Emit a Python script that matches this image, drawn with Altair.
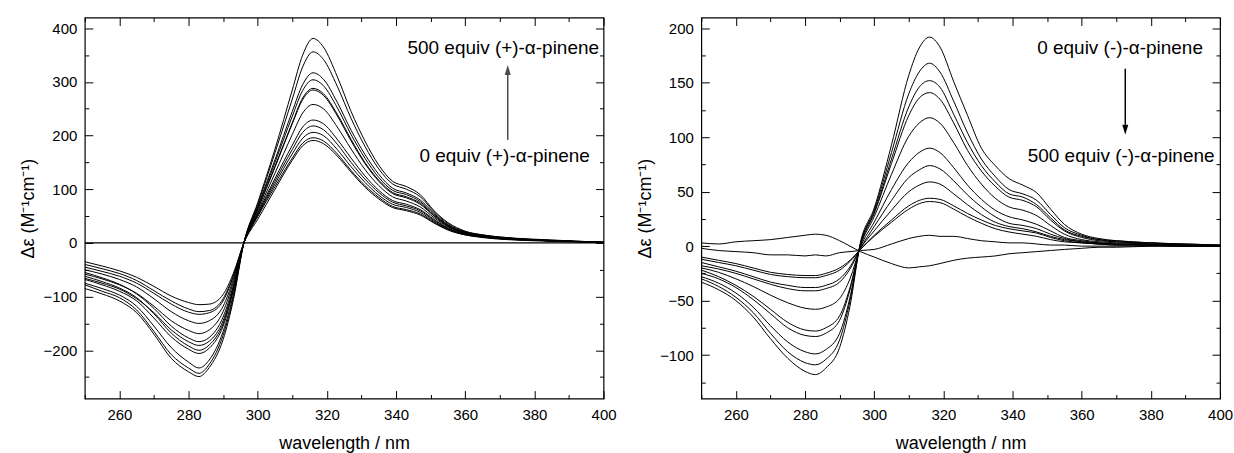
import altair as alt
import pandas as pd

FONT = "Liberation Sans"
PW, PH = 520, 382

# ---------------- data ----------------
wavelength = [250, 255, 260, 265, 270, 275, 280, 283, 286, 290, 293, 296, 300, 305, 310, 313,
              316, 319, 323, 327, 331, 335, 339, 343, 347, 351, 355, 360, 365, 370, 380, 390, 400]

# left panel: titration with (+)-alpha-pinene (0 ... 500 equiv)
plus_1 = [-85, -95, -108, -130, -170, -215, -240, -249, -232, -180, -105, 0, 75, 175, 285, 350, 381, 365, 310, 245, 190, 145, 115, 105, 90, 60, 38, 22, 15, 11, 7, 4, 1]
plus_2 = [-78, -90, -102, -125, -165, -208, -233, -243, -226, -172, -100, 0, 72, 168, 268, 328, 356, 342, 292, 232, 180, 138, 110, 100, 86, 58, 36, 21, 15, 11, 6, 4, 1]
plus_3 = [-75, -85, -97, -118, -155, -195, -222, -233, -218, -165, -95, 0, 68, 155, 245, 295, 317, 305, 262, 210, 165, 128, 102, 93, 80, 55, 34, 20, 14, 10, 6, 3, 1]
plus_4 = [-68, -78, -90, -108, -140, -175, -198, -206, -196, -155, -88, 0, 66, 150, 236, 284, 304, 293, 252, 202, 158, 122, 98, 90, 77, 53, 33, 19, 14, 10, 6, 3, 1]
plus_5 = [-62, -72, -84, -102, -132, -168, -192, -200, -190, -150, -85, 0, 63, 143, 224, 270, 288, 278, 240, 193, 150, 117, 94, 86, 74, 51, 32, 19, 13, 9, 5, 3, 1]
plus_6 = [-66, -75, -86, -104, -130, -162, -184, -191, -183, -145, -82, 0, 62, 141, 222, 267, 285, 275, 237, 190, 148, 115, 92, 84, 72, 50, 31, 18, 13, 9, 5, 3, 1]
plus_7 = [-55, -65, -77, -95, -122, -155, -177, -184, -176, -138, -78, 0, 58, 130, 202, 242, 258, 250, 216, 175, 137, 107, 86, 78, 67, 47, 30, 18, 12, 9, 5, 3, 1]
plus_8 = [-58, -67, -78, -94, -118, -145, -163, -169, -162, -128, -72, 0, 55, 120, 182, 216, 229, 222, 193, 158, 125, 98, 79, 72, 62, 44, 28, 17, 12, 8, 5, 3, 1]
plus_9 = [-50, -58, -68, -82, -104, -128, -145, -150, -145, -118, -67, 0, 53, 115, 174, 206, 218, 211, 184, 150, 119, 94, 76, 69, 60, 42, 27, 16, 11, 8, 5, 3, 1]
plus_10 = [-45, -53, -62, -75, -94, -114, -129, -133, -130, -108, -62, 0, 51, 110, 166, 195, 206, 200, 174, 142, 113, 89, 72, 66, 57, 40, 26, 16, 11, 8, 5, 3, 1]
plus_11 = [-40, -48, -57, -70, -89, -108, -123, -128, -126, -104, -60, 0, 49, 105, 158, 186, 196, 190, 166, 135, 107, 85, 68, 62, 54, 38, 25, 15, 11, 8, 5, 3, 1]
plus_12 = [-35, -43, -52, -64, -81, -99, -111, -115, -114, -96, -56, 0, 44, 100, 154, 181, 191, 185, 162, 132, 104, 82, 66, 60, 52, 37, 24, 15, 10, 7, 4, 2, 1]

# right panel: titration with (-)-alpha-pinene (0 ... 500 equiv)
minus_1 = [-33, -40, -50, -65, -85, -103, -115, -118, -112, -93, -55, 3, 35, 93, 157, 182, 192, 183, 151, 120, 90, 74, 62, 56, 49, 34, 20, 11, 7, 5, 3, 2, 1]
minus_2 = [-30, -37, -47, -61, -80, -97, -107, -109, -104, -86, -50, 2, 33, 86, 140, 160, 168, 160, 133, 104, 80, 64, 52, 48, 42, 29, 17, 10, 6, 5, 3, 2, 1]
minus_3 = [-28, -34, -43, -56, -73, -88, -97, -99, -95, -80, -47, 2, 31, 80, 128, 146, 152, 146, 121, 95, 74, 59, 48, 45, 38, 26, 15, 9, 6, 4, 3, 1, 1]
minus_4 = [-25, -30, -38, -49, -62, -75, -82, -83, -80, -68, -40, 1, 30, 76, 120, 136, 141, 135, 113, 88, 69, 55, 45, 42, 36, 24, 14, 8, 5, 4, 2, 1, 0]
minus_5 = [-22, -28, -36, -46, -58, -70, -77, -78, -75, -64, -38, 0, 27, 66, 101, 113, 118, 113, 95, 74, 57, 44, 36, 33, 28, 19, 11, 6, 4, 3, 2, 1, 0]
minus_6 = [-20, -24, -30, -37, -45, -52, -57, -58, -56, -48, -30, -1, 22, 52, 77, 86, 90, 86, 72, 56, 43, 33, 27, 24, 20, 14, 8, 5, 3, 2, 1, 1, 0]
minus_7 = [-18, -21, -25, -30, -35, -39, -41, -41, -39, -33, -21, -2, 18, 42, 63, 70, 74, 71, 60, 47, 36, 27, 21, 19, 16, 11, 7, 4, 3, 2, 1, 0, 0]
minus_8 = [-15, -19, -23, -28, -33, -36, -38, -38, -36, -30, -19, -2, 14, 33, 50, 56, 59, 57, 48, 38, 29, 22, 18, 16, 13, 9, 6, 4, 2, 2, 1, 0, 0]
minus_9 = [-12, -15, -18, -22, -26, -28, -29, -29, -27, -22, -14, -3, 10, 24, 37, 42, 44, 43, 37, 30, 24, 19, 16, 14, 12, 8, 5, 3, 2, 1, 1, 0, 0]
minus_10 = [-10, -13, -16, -20, -24, -26, -27, -27, -25, -20, -13, -3, 9, 22, 34, 39, 41, 40, 34, 27, 21, 16, 13, 11, 9, 6, 4, 3, 2, 1, 1, 0, 0]
minus_11 = [-2, -4, -5, -6, -8, -8, -9, -8, -9, -6, -5, -4, -3, 2, 7, 9, 10, 9, 9, 7, 5, 4, 3, 3, 2, 1, 1, 0, 0, 0, 0, 0, 0]
minus_12 = [3, 2, 4, 5, 6, 8, 10, 11, 10, 5, 0, -5, -10, -16, -20, -19, -18, -16, -13, -11, -10, -9, -7, -6, -5, -4, -3, -2, -1, -1, 0, 0, 0]

x_major = [260, 280, 300, 320, 340, 360, 380, 400]
x_minor = [250, 270, 290, 310, 330, 350, 370, 390]
left_y_domain = [-290, 420]
left_y_major = [-200, -100, 0, 100, 200, 300, 400]
left_y_minor = [-250, -150, -50, 50, 150, 250, 350]
right_y_domain = [-140, 210]
right_y_major = [-100, -50, 0, 50, 100, 150, 200]
right_y_minor = [-125, -75, -25, 25, 75, 125, 175]

left_labels = ["500 equiv (+)-\u03b1-pinene", "0 equiv (+)-\u03b1-pinene"]
left_label_x = [371.0, 371.4]
left_label_y = [363, 162]
left_arrow_x = [372.3]
left_arrow_from = [192]
left_arrow_to = [313]

right_labels = ["0 equiv (-)-\u03b1-pinene", "500 equiv (-)-\u03b1-pinene"]
right_label_x = [371.1, 371.4]
right_label_y = [182, 83]
right_arrow_x = [372.6]
right_arrow_from = [163]
right_arrow_to = [111.5]

Y_TITLE = "\u0394\u03b5 (M\u207b\u00b9cm\u207b\u00b9)"


def long_df(curves):
    rows = []
    for i, vals in enumerate(curves):
        for wl, v in zip(wavelength, vals):
            rows.append({"wl": wl, "val": v, "curve": f"c{i}"})
    return pd.DataFrame(rows)


def panel(curves, ydom, ymajor, yminor, labels, lx, ly, ax, ay0, ay1, head_path, arrow_color, zero_line):
    df = long_df(curves)
    xs = alt.Scale(domain=[250, 400], nice=False, zero=False)
    ys = alt.Scale(domain=ydom, nice=False, zero=False)

    common = dict(gridColor="black", gridOpacity=1, gridWidth=1, ticks=False, domain=False)
    x_axis = alt.Axis(orient="bottom", values=x_major, title="wavelength / nm", grid=True,
                      gridDash=[8, PH - 16, 8, 3000], labelFont=FONT, labelFontSize=15,
                      labelColor="black", labelPadding=9, labelFlush=False, labelOverlap=False,
                      minExtent=25, maxExtent=25,
                      titleFont=FONT, titleFontSize=18, titleFontWeight="normal",
                      titleColor="black", titlePadding=11, **common)
    y_axis = alt.Axis(orient="left", values=ymajor, title=Y_TITLE, grid=True,
                      gridDash=[8, PW - 16, 8, 3000], labelFont=FONT, labelFontSize=15,
                      labelColor="black", labelPadding=8, labelFlush=False, labelOverlap=False,
                      minExtent=38, maxExtent=38,
                      titleFont=FONT, titleFontSize=18, titleFontWeight="normal",
                      titleColor="black", titlePadding=9, **common)
    x_axis_minor = alt.Axis(orient="bottom", values=x_minor, title=None, labels=False, grid=True,
                            gridDash=[4, PH - 8, 4, 3000], **common)
    y_axis_minor = alt.Axis(orient="left", values=yminor, title=None, labels=False, grid=True,
                            gridDash=[4, PW - 8, 4, 3000], **common)

    lines = alt.Chart(df).mark_line(color="black", strokeWidth=1, interpolate="monotone").encode(
        x=alt.X("wl:Q", scale=xs, axis=x_axis),
        y=alt.Y("val:Q", scale=ys, axis=y_axis),
        detail="curve:N",
    )
    minor = alt.Chart(df).mark_line(strokeOpacity=0, color="black").encode(
        x=alt.X("wl:Q", scale=xs, axis=x_axis_minor),
        y=alt.Y("val:Q", scale=ys, axis=y_axis_minor),
        detail="curve:N",
    )
    tdf = pd.DataFrame({"wl": lx, "val": ly, "label": labels})
    text = alt.Chart(tdf).mark_text(font=FONT, fontSize=19, align="center", baseline="middle",
                                    color="black").encode(
        x=alt.X("wl:Q", scale=xs, axis=None),
        y=alt.Y("val:Q", scale=ys, axis=None),
        text="label:N",
    )
    adf = pd.DataFrame({"wl": ax, "val": ay0, "val2": ay1})
    arrow = alt.Chart(adf).mark_rule(color=arrow_color, strokeWidth=1.5).encode(
        x=alt.X("wl:Q", scale=xs, axis=None),
        y=alt.Y("val:Q", scale=ys, axis=None),
        y2="val2:Q",
    )
    hdf = pd.DataFrame({"wl": ax, "val": ay1})
    head = alt.Chart(hdf).mark_point(shape=head_path, filled=True, size=400, color=arrow_color,
                                     opacity=1, strokeWidth=0).encode(
        x=alt.X("wl:Q", scale=xs, axis=None),
        y=alt.Y("val:Q", scale=ys, axis=None),
    )
    layers = [lines, minor]
    if zero_line:
        zdf = pd.DataFrame({"val": [0]})
        layers.append(alt.Chart(zdf).mark_rule(color="black", strokeWidth=1.3).encode(
            y=alt.Y("val:Q", scale=ys, axis=None)))
    layers += [text, arrow, head]
    return alt.layer(*layers).resolve_axis(x="independent", y="independent").properties(
        width=PW, height=PH)


left = panel([plus_1, plus_2, plus_3, plus_4, plus_5, plus_6, plus_7, plus_8, plus_9, plus_10, plus_11, plus_12],
             left_y_domain, left_y_major, left_y_minor, left_labels, left_label_x, left_label_y,
             left_arrow_x, left_arrow_from, left_arrow_to, "M0,-1L0.3,0L-0.3,0Z", "#4a4a4a", True)
right = panel([minus_1, minus_2, minus_3, minus_4, minus_5, minus_6, minus_7, minus_8, minus_9, minus_10, minus_11, minus_12],
              right_y_domain, right_y_major, right_y_minor, right_labels, right_label_x, right_label_y,
              right_arrow_x, right_arrow_from, right_arrow_to, "M0,1L0.3,0L-0.3,0Z", "black", False)

chart = alt.hconcat(left, right, spacing=18).properties(
    padding={"left": 19, "top": 16, "right": 0, "bottom": 0},
    background="white",
).configure_view(stroke="black", strokeWidth=1.2)

chart.save("out.html", embed_options={"renderer": "svg", "actions": False})
